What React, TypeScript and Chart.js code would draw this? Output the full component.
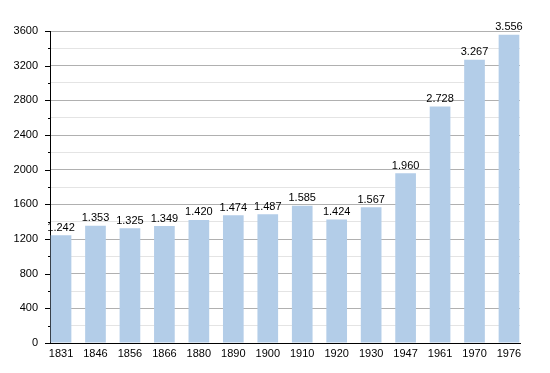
import React, { useEffect, useRef } from "react";
import { Chart, registerables } from "chart.js";

Chart.register(...registerables);

const years = ["1831", "1846", "1856", "1866", "1880", "1890", "1900", "1910", "1920", "1930", "1947", "1961", "1970", "1976"];
const population = [1242, 1353, 1325, 1349, 1420, 1474, 1487, 1585, 1424, 1567, 1960, 2728, 3267, 3556];
const yMax = 3600;
const yStep = 200;
const yLabelStep = 400;

const FONT = "'Liberation Sans', Arial, sans-serif";

const fmt = (v: number) => {
  const s = String(v);
  return s.length > 3 ? s.slice(0, s.length - 3) + "." + s.slice(s.length - 3) : s;
};

const extrasPlugin = {
  id: "extras",
  afterDatasetsDraw(chart: any) {
    const ctx = chart.ctx;
    const y = chart.scales.y;
    const x = chart.scales.x;
    const left = chart.chartArea.left;
    ctx.save();
    ctx.strokeStyle = "#000";
    ctx.lineWidth = 1;
    for (let v = 0; v <= yMax; v += yStep) {
      const py = Math.round(y.getPixelForValue(v)) + 0.5;
      const len = v % yLabelStep === 0 ? 5 : 2;
      ctx.beginPath();
      ctx.moveTo(left - len, py);
      ctx.lineTo(left, py);
      ctx.stroke();
    }
    ctx.fillStyle = "#000";
    ctx.font = "11px " + FONT;
    ctx.textAlign = "center";
    ctx.textBaseline = "bottom";
    const meta = chart.getDatasetMeta(0);
    meta.data.forEach((bar: any, i: number) => {
      ctx.fillText(fmt(population[i]), x.getPixelForValue(i), bar.y - 2);
    });
    ctx.restore();
  },
};

export default function App() {
  const ref = useRef<HTMLCanvasElement>(null);
  useEffect(() => {
    if (!ref.current) return;
    const chart = new Chart(ref.current, {
      type: "bar",
      data: {
        datasets: [
          {
            data: population.map((v, i) => ({ x: i, y: v })),
            backgroundColor: "#b3cde8",
            borderWidth: 0,
            barPercentage: 0.6,
            categoryPercentage: 1,
          },
        ],
      },
      options: {
        animation: false,
        responsive: false,
        maintainAspectRatio: false,
        layout: { padding: { top: 31, right: 30, left: 0, bottom: 0 } },
        plugins: { legend: { display: false }, tooltip: { enabled: false } },
        scales: {
          x: {
            type: "linear",
            offset: false,
            min: -0.32,
            max: years.length - 1 + 0.32,
            afterBuildTicks: (axis: any) => {
              axis.ticks = years.map((_, i) => ({ value: i }));
            },
            afterFit: (axis: any) => {
              axis.height = 30;
            },
            grid: { display: false, drawTicks: false, offset: false },
            border: { display: true, color: "#000", width: 1 },
            ticks: {
              autoSkip: false,
              maxRotation: 0,
              padding: 4,
              color: "#000",
              font: { family: FONT, size: 11 },
              callback: (v: any) => years[v] ?? "",
            },
          },
          y: {
            min: 0,
            max: yMax,
            afterBuildTicks: (axis: any) => {
              const t = [];
              for (let v = 0; v <= yMax; v += yStep) t.push({ value: v });
              axis.ticks = t;
            },
            afterFit: (axis: any) => {
              axis.width = 50;
            },
            grid: {
              drawTicks: false,
              color: (c: any) => (c.tick && c.tick.value % yLabelStep === 0 ? "#b0b0b0" : "#e4e4e4"),
              lineWidth: 1,
            },
            border: { display: true, color: "#000", width: 1 },
            ticks: {
              padding: 12,
              color: "#000",
              font: { family: FONT, size: 11 },
              callback: (v: any) => (v % yLabelStep === 0 ? String(v) : ""),
            },
          },
        },
      },
      plugins: [extrasPlugin],
    } as any);
    return () => chart.destroy();
  }, []);
  return (
    <div style={{ position: "fixed", left: 0, top: 0, width: 550, height: 373, background: "#fff" }}>
      <canvas ref={ref} width={550} height={373} style={{ width: 550, height: 373 }} />
    </div>
  );
}
